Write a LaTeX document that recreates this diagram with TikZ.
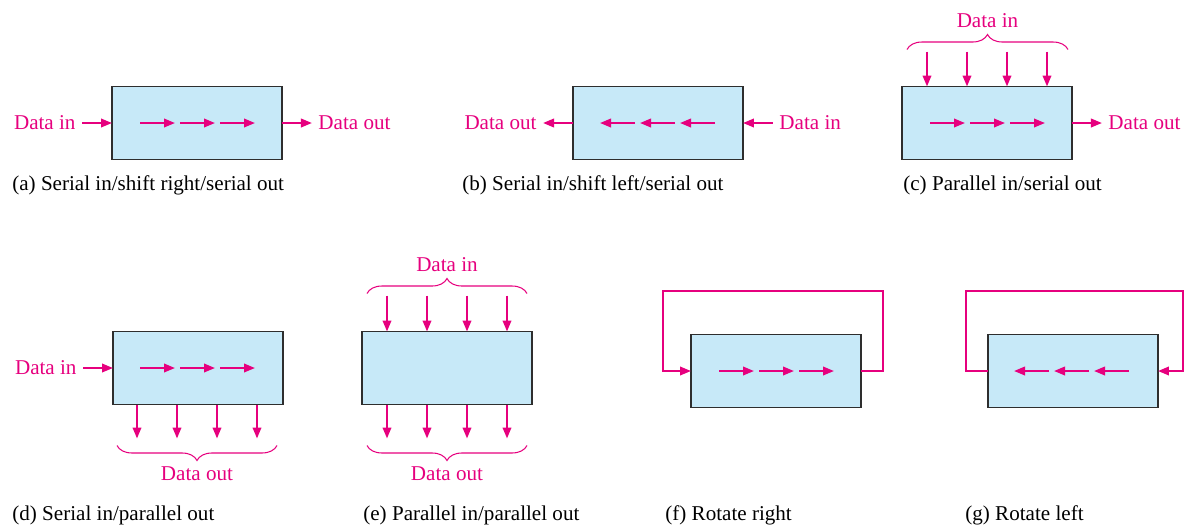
\documentclass[tikz,border=0pt]{standalone}
\usepackage{fontspec}
\setmainfont{Liberation Serif}
\usepackage{tikz}
\usetikzlibrary{arrows.meta, positioning, calc, decorations.pathreplacing}
\definecolor{dataPink}{HTML}{E6007E}
\definecolor{regBlue}{HTML}{C7E9F8}
\definecolor{regEdge}{HTML}{2E2E2E}

\tikzset{
  reg/.style={draw=regEdge, fill=regBlue, line width=0.9pt, minimum width=3.4cm,
    minimum height=1.46cm, inner sep=0pt, outer sep=0pt},
  sig/.style={dataPink, line width=1.2pt, -{Triangle[length=2.2mm, width=1.7mm]}},
  lbl/.style={text=dataPink, font=\fontsize{12}{14}\selectfont, inner sep=3.5pt},
  capt/.style={font=\fontsize{12}{14}\selectfont, anchor=base west, inner sep=0pt},
  brc/.style={dataPink, line width=0.6pt, decorate, decoration={brace, amplitude=0.3cm}},
}

\begin{document}
\begin{tikzpicture}[x=0.02cm, y=-0.02cm]
    \useasboundingbox (0,0) rectangle (1184,528);

    % ══════════════════════════════════════════════
    % ══ FILA SUPERIOR ══
    % ══════════════════════════════════════════════

    % (a) Serial in / shift right / serial out
    \node[reg] (boxa) at (197,123) {};
    \node[lbl, left=0.6cm of boxa] (ina) {Data in};
    \node[lbl, right=0.6cm of boxa] (outa) {Data out};
    \draw[sig] (ina) -- (boxa);
    \draw[sig] (boxa) -- (outa);
    \foreach \k in {0,1,2}
        \draw[sig] ($(boxa.center)+(-57+40*\k,0)$) -- ++(35,0);
    \node[capt] (capa) at (12,190) {(a) Serial in/shift right/serial out};

    % (b) Serial in / shift left / serial out
    \node[reg] (boxb) at (658,123) {};
    \node[lbl, left=0.6cm of boxb] (outb) {Data out};
    \node[lbl, right=0.6cm of boxb] (inb) {Data in};
    \draw[sig] (boxb) -- (outb);
    \draw[sig] (inb) -- (boxb);
    \foreach \k in {0,1,2}
        \draw[sig] ($(boxb.center)+(57-40*\k,0)$) -- ++(-35,0);
    \node[capt] (capb) at (462,190) {(b) Serial in/shift left/serial out};

    % (c) Parallel in / serial out
    \node[reg] (boxc) at (987,123) {};
    \node[lbl, right=0.6cm of boxc] (outc) {Data out};
    \draw[sig] (boxc) -- (outc);
    \foreach \k in {0,1,2}
        \draw[sig] ($(boxc.center)+(-57+40*\k,0)$) -- ++(35,0);
    \foreach \k in {0,...,3}
        \draw[sig] ($(boxc.north)+(-60+40*\k,-35)$) -- ($(boxc.north)+(-60+40*\k,0)$);
    \draw[brc] ($(boxc.north)+(-80,-37)$) -- ($(boxc.north)+(81,-37)$)
        node[midway, lbl, above=0.3cm] (inc) {Data in};
    \node[capt] (capc) at (903,190) {(c) Parallel in/serial out};

    % ══════════════════════════════════════════════
    % ══ FILA INFERIOR ══
    % ══════════════════════════════════════════════

    % (d) Serial in / parallel out
    \node[reg] (boxd) at (198,368) {};
    \node[lbl, left=0.6cm of boxd] (ind) {Data in};
    \draw[sig] (ind) -- (boxd);
    \foreach \k in {0,1,2}
        \draw[sig] ($(boxd.center)+(-58+40*\k,0)$) -- ++(35,0);
    \foreach \k in {0,...,3}
        \draw[sig] ($(boxd.south)+(-61+40*\k,0)$) -- ($(boxd.south)+(-61+40*\k,34)$);
    \draw[brc] ($(boxd.south)+(79,41)$) -- ($(boxd.south)+(-81,41)$)
        node[midway, lbl, below=0.3cm] (outd) {Data out};
    \node[capt] (capd) at (12,520) {(d) Serial in/parallel out};

    % (e) Parallel in / parallel out
    \node[reg] (boxe) at (447,368) {};
    \foreach \k in {0,...,3} {
        \draw[sig] ($(boxe.north)+(-60+40*\k,-36)$) -- ($(boxe.north)+(-60+40*\k,0)$);
        \draw[sig] ($(boxe.south)+(-60+40*\k,0)$) -- ($(boxe.south)+(-60+40*\k,34)$);
    }
    \draw[brc] ($(boxe.north)+(-80,-38)$) -- ($(boxe.north)+(80,-38)$)
        node[midway, lbl, above=0.3cm] (ine) {Data in};
    \draw[brc] ($(boxe.south)+(80,41)$) -- ($(boxe.south)+(-80,41)$)
        node[midway, lbl, below=0.3cm] (oute) {Data out};
    \node[capt] (cape) at (363,520) {(e) Parallel in/parallel out};

    % (f) Rotate right
    \node[reg] (boxf) at (776,371) {};
    \foreach \k in {0,1,2}
        \draw[sig] ($(boxf.center)+(-57+40*\k,0)$) -- ++(35,0);
    \draw[sig] (boxf.east) -- ++(22,0) -- ++(0,-80) -| ($(boxf.west)+(-28,0)$) -- (boxf.west);
    \node[capt] (capf) at (665,520) {(f) Rotate right};

    % (g) Rotate left
    \node[reg] (boxg) at (1073,371) {};
    \foreach \k in {0,1,2}
        \draw[sig] ($(boxg.center)+(56-40*\k,0)$) -- ++(-35,0);
    \draw[sig] (boxg.west) -- ++(-22,0) -- ++(0,-80) -| ($(boxg.east)+(25,0)$) -- (boxg.east);
    \node[capt] (capg) at (965,520) {(g) Rotate left};

\end{tikzpicture}
\end{document}
